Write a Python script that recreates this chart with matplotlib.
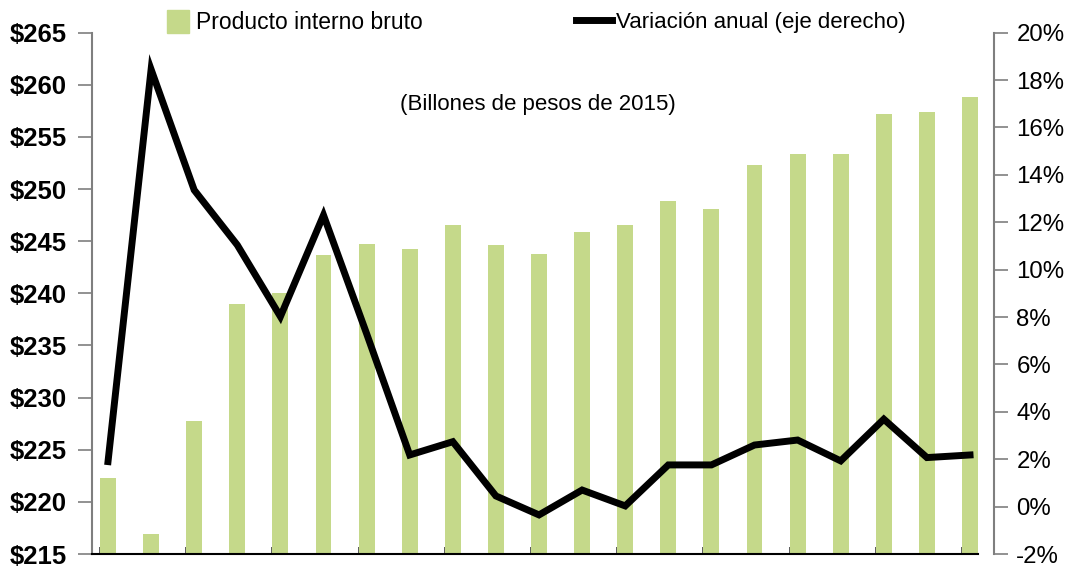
import matplotlib
matplotlib.use("Agg")
import matplotlib.pyplot as plt
from matplotlib.lines import Line2D
from matplotlib.patches import Patch
from matplotlib.ticker import FuncFormatter, FixedLocator
import numpy as np

plt.rcParams['font.family'] = ['Liberation Sans', 'DejaVu Sans']

# PIB (billones de pesos de 2015) y variacion anual (%)
pib = [222.3, 216.9, 227.8, 239.0, 240.0, 243.7, 244.7, 244.3, 246.6, 244.6, 243.8,
       245.9, 246.6, 248.9, 248.1, 252.3, 253.4, 253.4, 257.2, 257.4, 258.8]
variacion = [1.9, 18.45, 13.36, 11.04, 8.02, 12.3, 7.3, 2.18, 2.74, 0.45, -0.35,
             0.7, 0.03, 1.76, 1.76, 2.6, 2.81, 1.93, 3.69, 2.07, 2.18]
left_ticks = [215, 220, 225, 230, 235, 240, 245, 250, 255, 260, 265]
right_ticks = [-2, 0, 2, 4, 6, 8, 10, 12, 14, 16, 18, 20]

green = "#c5d98a"
gray = "#7f7f7f"
bw = 0.37
x = np.arange(len(pib))

fig = plt.figure(figsize=(10.8, 5.67), dpi=100)
ax = fig.add_axes([0.0852, 0.0229, 0.8352, 0.9194])
ax2 = ax.twinx()

ax.bar(x, [v - 215 for v in pib], bottom=215, width=bw, color=green, zorder=2)
ax2.plot(x, variacion, color="black", lw=5, solid_joinstyle="miter", zorder=3)

ax.set_xlim(-0.371, 20.557)
ax.set_ylim(215, 265)
ax2.set_ylim(-2, 20)

ax.yaxis.set_major_locator(FixedLocator(left_ticks))
ax2.yaxis.set_major_locator(FixedLocator(right_ticks))
ax.yaxis.set_major_formatter(FuncFormatter(lambda v, p: r"\$%d" % v))
ax2.yaxis.set_major_formatter(FuncFormatter(lambda v, p: "%d%%" % v))

# category ticks every second bar, at the bar's left edge
ax.xaxis.set_major_locator(FixedLocator(x[::2] - bw / 2))
ax.tick_params(axis="x", direction="in", length=5, width=1.2, color="#404040",
               labelbottom=False)
ax.tick_params(axis="y", direction="out", length=10, width=1.2, color=gray,
               labelsize=18.5, pad=8)
ax2.tick_params(axis="y", direction="out", length=10, width=1.2, color=gray,
                labelsize=17.3, pad=6)
for lab in ax.get_yticklabels():
    lab.set_fontweight("bold")

for a in (ax, ax2):
    a.spines["top"].set_visible(False)
ax.spines["right"].set_visible(False)
ax2.spines["left"].set_visible(False)
ax2.spines["bottom"].set_visible(False)
ax.spines["left"].set_color(gray)
ax.spines["left"].set_linewidth(1.5)
ax2.spines["right"].set_color(gray)
ax2.spines["right"].set_linewidth(1.5)
ax.spines["bottom"].set_color("black")
ax.spines["bottom"].set_linewidth(1.5)
ax.spines["bottom"].set_bounds(-0.371, x[-1] + bw / 2)

ax.text(0.4981, 0.815, "(Billones de pesos de 2015)", transform=fig.transFigure,
        ha="center", va="center", fontsize=16)

fig.legend(handles=[Patch(color=green, label="Producto interno bruto")],
           loc="center left", bbox_to_anchor=(0.1546, 0.961), frameon=False,
           fontsize=16.5, handlelength=0.95, handleheight=1.15, handletextpad=0.3,
           borderpad=0, borderaxespad=0)
fig.legend(handles=[Line2D([], [], color="black", lw=5,
                           label="Variación anual (eje derecho)")],
           loc="center left", bbox_to_anchor=(0.5333, 0.961), frameon=False,
           fontsize=16, handlelength=1.6, handletextpad=0.2,
           borderpad=0, borderaxespad=0)

fig.savefig("out.png", dpi=100)
